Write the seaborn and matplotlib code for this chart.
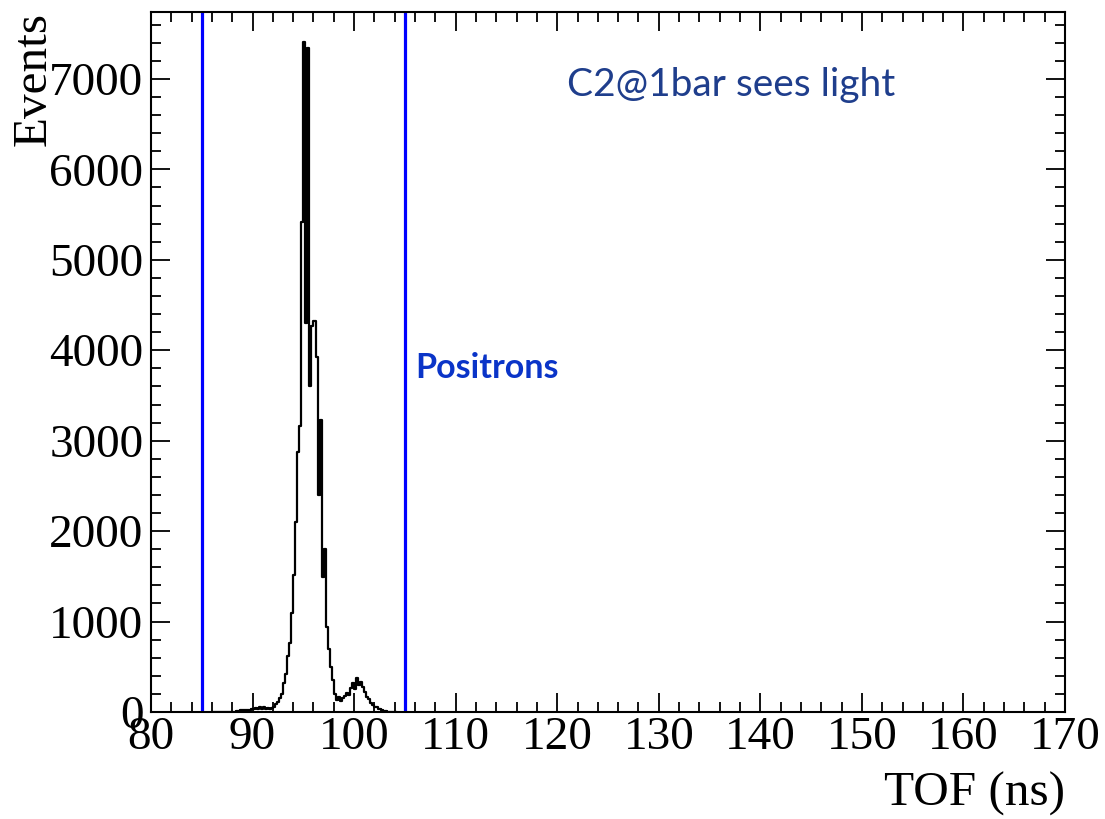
import numpy as np
import pandas as pd
import matplotlib
matplotlib.use("Agg")
import matplotlib.pyplot as plt
import seaborn as sns
from matplotlib.ticker import MultipleLocator

# TOF histogram, 0.2 ns bins starting at 86.0 ns
bin_start = 86.0
bin_width = 0.2
counts = [
    0, 0, 0, 0, 0, 0, 0, 0, 0, 0,
    2, 5, 10, 15, 18, 20, 22, 25, 20, 28,
    30, 45, 30, 55, 35, 50, 30, 45, 35, 40,
    50, 90, 110, 160, 200, 320, 420, 620, 760, 1100,
    1520, 2100, 2870, 3160, 5415, 7408, 4300, 7342, 3600, 4263,
    4320, 3930, 2400, 3233, 1495, 1800, 941, 700, 500, 354,
    200, 130, 170, 120, 160, 180, 210, 190, 260, 320,
    250, 375, 300, 330, 277, 220, 166, 140, 100, 80,
    60, 50, 35, 20, 15, 8, 5, 3, 2, 1,
    0,
]
cut_lines = [85.0, 105.0]
x_ticks = [80, 90, 100, 110, 120, 130, 140, 150, 160, 170]
y_ticks = [0, 1000, 2000, 3000, 4000, 5000, 6000, 7000]
title_text = "C2@1bar sees light"
cut_label = "Positrons"

nb = len(counts)
centers = bin_start + bin_width * (np.arange(nb) + 0.5)
df = pd.DataFrame({"tof": centers, "w": counts})

sns.set_style("ticks")
plt.rcParams["font.family"] = ["Liberation Serif", "DejaVu Serif"]

fig = plt.figure(figsize=(11.05, 8.19), dpi=100)
ax = fig.add_axes([151 / 1105, 1 - 712 / 819, 914 / 1105, 700 / 819])

sns.histplot(data=df, x="tof", weights="w", binwidth=bin_width,
             binrange=(bin_start, bin_start + bin_width * nb),
             element="step", fill=False, color="black", linewidth=1.6, ax=ax)

for xc in cut_lines:
    ax.axvline(xc, color="#0000ff", linewidth=2.3)

ax.set_xlim(80, 170)
ax.set_ylim(0, 7740)
ax.set_xticks(x_ticks)
ax.set_yticks(y_ticks)
ax.xaxis.set_minor_locator(MultipleLocator(2))
ax.yaxis.set_minor_locator(MultipleLocator(200))
ax.tick_params(which="both", direction="in", top=True, right=True, width=1.3, colors="black")
ax.tick_params(which="major", length=14, labelsize=34)
ax.tick_params(which="minor", length=7)
ax.tick_params(axis="x", which="major", pad=3)
ax.tick_params(axis="y", which="major", pad=5.5)
for sp in ax.spines.values():
    sp.set_linewidth(1.5)
    sp.set_color("black")

ax.set_xlabel("TOF (ns)", fontsize=35.5, loc="right", color="black")
ax.set_ylabel("Events", fontsize=35.5, loc="top", color="black")
ax.xaxis.set_label_coords(1.0, -0.086)
ax.yaxis.set_label_coords(-0.104, 1.0)

ax.text(121.0, 6936, title_text, color="#1f3e8c", fontsize=28, ha="left", va="center",
        family=["Lato", "DejaVu Sans"])
ax.text(106.0, 3805, cut_label, color="#0a34c8", fontsize=24.5, fontweight="bold",
        ha="left", va="center", family=["Lato", "DejaVu Sans"])

fig.savefig("out.png", dpi=100)
